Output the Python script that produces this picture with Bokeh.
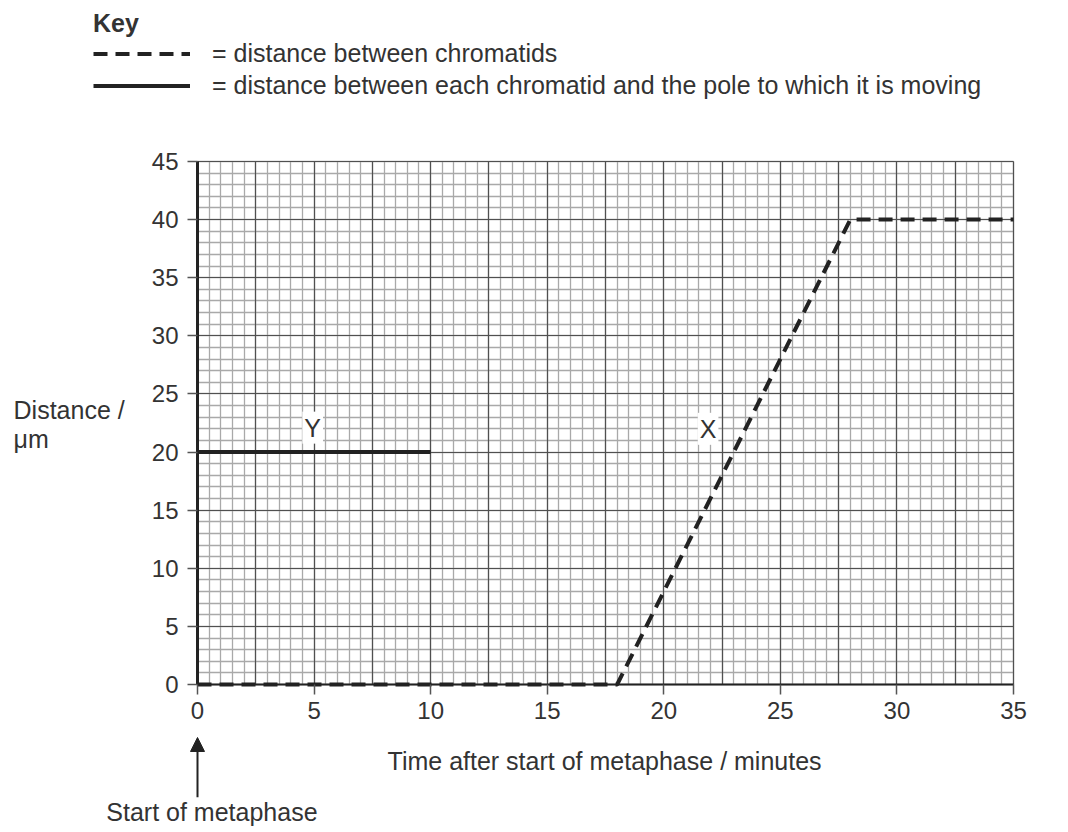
from bokeh.plotting import figure
from bokeh.models import (Grid, SingleIntervalTicker, Label, Arrow, NormalHead,
                          Legend, LegendItem, FixedTicker, Range1d)
from bokeh.embed import file_html
from bokeh.resources import INLINE

# ---- data ----
chromatid_time = [0, 18, 28, 35]
chromatid_dist = [0, 0, 40, 40]
pole_time = [0, 10]
pole_dist = [20, 20]
x_ticks = [0, 5, 10, 15, 20, 25, 30, 35]
y_ticks = [0, 5, 10, 15, 20, 25, 30, 35, 40, 45]
X_MIN, X_MAX = 0, 35
Y_MIN, Y_MAX = 0, 45

FONT = "Liberation Sans"
INK = "#222222"
TXT = "#333333"
TICK_FS = "24px"
TEXT_FS = "25px"

# page geometry: chart area 197..1013 px across, 161..684 px down
W, H = 1052, 830
CH_LEFT, CH_W = 197, 816
CH_BOTTOM, CH_H = 684, 523
SX = CH_W / (X_MAX - X_MIN)
SY = CH_H / (Y_MAX - Y_MIN)

p = figure(frame_width=W, frame_height=H, min_border=0,
           x_range=Range1d(X_MIN - CH_LEFT / SX, X_MIN + (W - CH_LEFT) / SX),
           y_range=Range1d(Y_MIN - (H - CH_BOTTOM) / SY, Y_MIN + CH_BOTTOM / SY),
           output_backend="svg", toolbar_location=None)
p.xgrid.visible = False
p.ygrid.visible = False
p.outline_line_color = None

grids = [
    Grid(dimension=0, ticker=SingleIntervalTicker(interval=0.5), bounds=(X_MIN, X_MAX),
         cross_bounds=(Y_MIN, Y_MAX), grid_line_color="#a9a9a9", grid_line_width=1.3),
    Grid(dimension=1, ticker=SingleIntervalTicker(interval=1), bounds=(Y_MIN, Y_MAX),
         cross_bounds=(X_MIN, X_MAX), grid_line_color="#a9a9a9", grid_line_width=1.3),
    Grid(dimension=0, ticker=SingleIntervalTicker(interval=2.5), bounds=(X_MIN, X_MAX),
         cross_bounds=(Y_MIN, Y_MAX), grid_line_color="#505050", grid_line_width=1.2),
    Grid(dimension=1, ticker=SingleIntervalTicker(interval=5), bounds=(Y_MIN, Y_MAX),
         cross_bounds=(X_MIN, X_MAX), grid_line_color="#505050", grid_line_width=1.2),
]
for g in grids:
    p.add_layout(g)

p.xaxis.ticker = FixedTicker(ticks=x_ticks)
p.yaxis.ticker = FixedTicker(ticks=y_ticks)
p.xaxis.fixed_location = Y_MIN
p.yaxis.fixed_location = X_MIN
p.xaxis.bounds = (X_MIN, X_MAX)
p.yaxis.bounds = (Y_MIN, Y_MAX)
for ax in (p.xaxis, p.yaxis):
    ax.major_tick_in = 0
    ax.major_tick_out = 10
    ax.minor_tick_out = 0
    ax.minor_tick_in = 0
    ax.major_tick_line_color = "#555555"
    ax.major_tick_line_width = 1.5
    ax.axis_line_color = INK
    ax.major_label_text_font = FONT
    ax.major_label_text_font_size = TICK_FS
    ax.major_label_text_color = TXT
p.yaxis.axis_line_width = 3
p.xaxis.axis_line_width = 2
p.yaxis.major_label_standoff = 9
p.xaxis.major_label_standoff = 7

r_dash = p.line(chromatid_time, chromatid_dist, line_color=INK, line_width=4,
                line_dash="14 8", line_cap="butt")
r_solid = p.line(pole_time, pole_dist, line_color=INK, line_width=4)

legend = Legend(items=[LegendItem(label="= distance between chromatids", renderers=[r_dash]),
                       LegendItem(label="= distance between each chromatid and the pole to which it is moving",
                                  renderers=[r_solid])],
                location=(93, 730), title="Key",
                title_text_font=FONT, title_text_font_style="bold",
                title_text_font_size=TEXT_FS, title_text_color=TXT,
                title_standoff=1,
                label_text_font=FONT, label_text_font_size=TEXT_FS,
                label_text_color=TXT,
                glyph_width=97, glyph_height=29, label_standoff=22,
                label_height=29, spacing=3, padding=0, margin=0,
                border_line_color=None, background_fill_alpha=0)
p.add_layout(legend)

for txt, xx, yy in (("Y", 4.94, 22.1), ("X", 21.9, 22.0)):
    p.add_layout(Label(x=xx, y=yy, text=txt, text_font=FONT, text_font_size=TEXT_FS,
                       text_color=TXT, text_align="center", text_baseline="middle",
                       background_fill_color="white", background_fill_alpha=1.0,
                       padding=2))

def note(text, xx, yy, align):
    p.add_layout(Label(x=xx, y=yy, text=text, text_font=FONT, text_font_size=TEXT_FS,
                       text_color=TXT, text_align=align, text_baseline="middle"))

note("Distance /", -7.89, 23.6, "left")
note("μm", -7.89, 21.15, "left")
note("Time after start of metaphase / minutes", 17.46, -6.54, "center")
note("Start of metaphase", 5.15, -10.95, "right")

p.add_layout(Arrow(x_start=0, y_start=-9.7, x_end=0, y_end=-4.56,
                   line_color=INK, line_width=2,
                   end=NormalHead(size=14, fill_color=INK, line_color=INK)))

open("out.html", "w").write(file_html(p, INLINE))
